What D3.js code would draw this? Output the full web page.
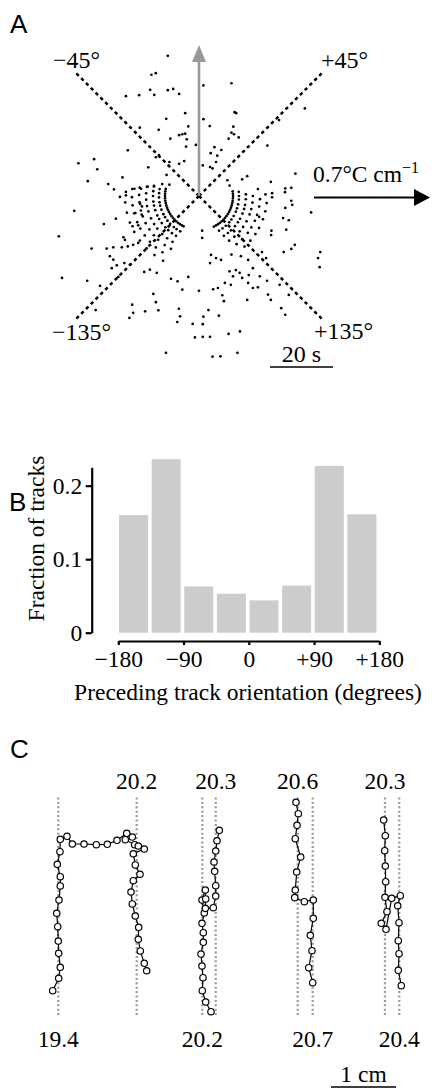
<!DOCTYPE html>
<html>
<head>
<meta charset="utf-8">
<script src="https://cdn.jsdelivr.net/npm/d3@7"></script>
<style>
body{margin:0;background:#fff;}
text{font-family:"Liberation Serif","Times New Roman",serif;fill:#000;}
.panel{font-family:"Liberation Sans",Arial,sans-serif;font-size:26px;}
</style>
</head>
<body>
<script>
// ---- Panel A: turn events, [x, y] in seconds (x along gradient, y up)
var turnPoints = [
  [-9.9,44.5],[-15.1,38.5],[-13.7,39.0],[-23.2,31.7],[-19.0,32.0],[-15.5,33.7],[-14.2,32.1],[-9.9,33.6],[-8.2,34.0],[-6.3,32.4],
  [-4.4,26.3],[-10.4,24.5],[-3.4,22.1],[-18.8,21.7],[-12.8,21.0],[-9.1,18.2],[-6.3,19.3],[-5.3,19.6],[-4.4,19.8],[-3.9,18.0],
  [-1.0,16.2],[-4.1,15.7],[-22.6,14.5],[-33.3,11.7],[-38.3,10.4],[-32.3,8.5],[-16.1,9.1],[-13.7,12.3],[-12.7,13.0],[-9.4,10.8],
  [-6.3,10.2],[-4.7,11.1],[-10.3,6.7],[-24.3,5.9],[-35.3,4.7],[-28.8,3.8],[-20.5,2.3],[-18.4,2.3],[-16.3,3.0],[-14.3,3.2],
  [-11.7,3.8],[-9.4,3.6],[-27.0,2.1],
  [1.4,35.1],[10.3,35.8],[11.3,26.6],[11.8,26.3],[1.4,24.4],[3.4,22.2],[10.9,22.0],[10.3,20.1],[11.1,19.6],[12.6,18.6],
  [9.4,18.2],[4.9,15.5],[7.1,14.6],[3.7,13.6],[5.8,12.8],[21.7,16.0],[33.6,27.8],[1.2,9.7],[3.5,9.2],[4.3,8.8],
  [5.4,10.8],[9.0,5.0],[9.7,3.3],[13.7,5.3],[15.3,6.3],[22.8,4.5],[30.6,7.1],[27.4,2.4],[29.3,2.6],[18.7,2.2],
  [25.4,24.1],[21.1,0.5],[23.2,0.9],[23.2,-0.4],[27.3,1.2],
  [-25.1,-0.3],[-23.2,0.2],[-23.2,1.3],[-39.6,-4.7],[-44.5,-12.8],[-30.2,-8.9],[-26.4,-7.2],[-34.1,-16.7],[-43.5,-26.0],[-35.5,-26.9],
  [-31.4,-28.5],[-32.8,-36.2],[-21.2,-34.5],[-20.9,-37.1],[-22.1,-38.7],[-17.1,-36.6],[-14.5,-31.1],[-13.7,-33.7],[-12.9,-36.3],[-17.4,-24.1],
  [-15.6,-23.4],[-13.4,-24.4],[-8.9,-26.3],[-6.8,-27.1],[-5.3,-29.7],[-3.4,-25.7],[-6.4,-35.8],[-6.0,-38.2],[-6.9,-40.0],[-2.0,-40.6],
  [-1.3,-44.9],[-10.5,-49.8],[0,-30.1],[-25.6,-25.7],[-29.3,-16.7],[-27.2,-16.3],[-24.5,-16.3],[-22.6,-16.0],[-20.9,-15.5],[-19.3,-14.9],
  [-24.0,-13.1],[-23.5,-13.9],[-21.1,-9.6],[-19.3,-9.3],[-28.3,-19.1],[-27.2,-20.2],[-26.1,-22.0],[-23.7,-21.3],[-21.9,-21.8],[-27.7,-22.9],
  [-18.7,-2.5],[-18.1,-3.3],[-20.2,-5.4],[-18.2,-5.9],
  [1.2,-40.7],[1.4,-38.3],[3.0,-36.2],[1.2,-44.7],[3.5,-44.7],[4.3,-51.0],[4.5,-29.6],[35.6,-5.2],[38.5,-17.8],[37.8,-19.7],
  [38.3,-22.6],[30.4,-15.5],[29.3,-16.8],[26.9,-17.8],[23.0,-11.0],[27.7,-10.7],[26.7,-7.0],[28.5,-7.7],[27.4,-3.8],[29.3,-1.5],
  [29.6,-2.8],[1.0,-11.0],[1.0,-13.3],[6.0,-29.2],[7.4,-31.5],[7.9,-33.4],[15.3,-33.0],[6.3,-38.0],[9.4,-43.8],[13.0,-43.0],
  [6.8,-50.9],[12.2,-49.8],[26.1,-35.6],[27.4,-37.7],[21.9,-31.3],[22.8,-33.0],[25.6,-28.2],[17.1,-29.2],[18.7,-29.0],[19.3,-25.5],
  [21.6,-26.9],[9.7,-23.9],[10.8,-25.5],[12.9,-24.4],[8.2,-27.6],[10.1,-28.2],[13.7,-26.0],[15.6,-27.6],[11.7,-23.5],[15.8,-25.1],
  [28.5,-31.4],[22.9,-12.4],[20.0,-17.8],[21.3,-19.7],[19.1,-6.6],[3.8,-18.7],[5.4,-19.7],[7.0,-20.3],[3.5,-21.3],[10.3,-18.6],
  [13.3,-19.1],[15.6,-20.3],[17.1,-22.9]
];

// the arc-shaped runs near the origin: time (s) and heading angles (deg)
var arcTimes = [10.8, 12.7, 14.9, 17.1, 19.4, 21.6,
                10.8, 12.7, 14.6, 16.8, 19.0, 21.3, 23.5];
var arcAngles = [
  [82,86,90,94,98,102,106,110,114,118,122,126,130,134,138,142,146,150,154],
  [84,90,95,102,108,113,120,126,131,138,144,150],
  [88,94,101,106,112,119,124,130,137,142,148],
  [90,97,104,110,118,125,131,139,146],
  [93,100,108,114,121,127,135,142],
  [96,103,110,118,124,131,138],
  [-78,-82,-86,-90,-94,-98,-102,-106,-110,-114,-118,-122,-126,-130,-134,-138,-142,-146,-150,-153],
  [-80,-86,-92,-99,-104,-110,-117,-122,-128,-134,-141,-146,-152],
  [-78,-84,-90,-97,-102,-108,-115,-120,-126,-133,-138,-144,-150],
  [-80,-87,-94,-101,-107,-115,-122,-128,-136,-143,-150],
  [-82,-89,-96,-104,-110,-117,-124,-131,-137,-145,-152],
  [-84,-91,-98,-105,-113,-119,-126,-133,-140,-147],
  [-95,-103,-111,-119,-127,-135,-143,-151]
];
var diagAngles = [-45, 45, -135, 135];
var diagLabels = ["\u221245\u00b0", "+45\u00b0", "\u2212135\u00b0", "+135\u00b0"];

// ---- Panel B: fraction of tracks per orientation bin (45 deg bins)
var binStarts = [-180, -135, -90, -45, 0, 45, 90, 135];
var fractions = [0.160, 0.236, 0.063, 0.053, 0.044, 0.064, 0.227, 0.161];
var xTicksB = [-180, -90, 0, 90, 180];
var xTickLabelsB = ["\u2212180", "\u221290", "0", "+90", "+180"];
var yTicksB = [0, 0.1, 0.2];

// ---- Panel C: example tracks, [x, y] in mm
var tracks = [
  [[5.03,4.51],[5.95,6.42],[6.20,8.11],[5.95,10.26],[5.89,12.15],[5.80,14.35],[5.65,16.42],[6.00,18.46],[6.20,20.62],[6.20,22.05],
   [5.74,23.95],[6.15,25.89],[6.20,27.80],[7.23,28.26],[8.05,27.08],[9.85,27.08],[11.74,26.97],[13.43,27.03],[14.92,27.65],[16.42,28.72],
   [17.28,28.15],[16.20,27.74],[17.65,26.97],[18.20,26.77],[19.12,26.31],[17.43,25.58],[17.74,23.85],[18.46,22.42],[17.43,21.43],[17.08,19.69],
   [17.28,17.85],[17.74,16.00],[18.26,14.26],[18.20,12.42],[18.51,10.62],[19.12,8.72],[19.49,7.58]],
  [[29.38,1.28],[28.57,2.77],[28.05,4.51],[28.15,6.51],[28.00,8.31],[27.85,10.15],[28.20,11.95],[28.20,13.43],[28.00,14.88],[28.35,16.46],
   [28.00,18.46],[28.51,20.00],[28.57,18.62],[28.51,17.18],[29.74,17.28],[30.11,19.08],[30.11,20.66],[29.95,22.88],[29.85,24.31],[30.11,26.00],
   [30.31,27.58],[30.66,29.18]],
  [[42.46,33.49],[42.82,31.74],[42.62,29.95],[42.35,27.89],[43.18,25.08],[42.57,22.77],[42.35,20.00],[42.26,18.82],[43.74,18.20],[45.12,18.46],
   [45.12,15.65],[44.66,13.03],[44.92,10.66],[44.42,8.05],[45.03,5.74]],
  [[55.95,30.77],[56.20,28.35],[56.11,26.05],[56.20,23.69],[56.26,21.28],[56.15,18.88],[56.46,16.66],[55.58,14.88],[56.31,13.95],[57.18,18.72],
   [58.51,19.12],[58.11,17.58],[58.31,14.97],[58.20,12.20],[58.31,10.20],[58.20,7.65],[58.66,5.28]]
];
var trackLines = [[5.89,17.95],[28.05,30.11],[42.72,45.03],[56.15,58.35]];
var topLabels = ["20.2","20.3","20.6","20.3"];
var topLabelLine = [1,1,0,0];
var bottomLabels = ["19.4","20.2","20.7","20.4"];
var bottomLabelLine = [0,0,1,1];

var svg = d3.select("body").append("svg")
    .attr("width", 432)
    .attr("height", 1089);

//panel letters
svg.append("text").attr("class","panel").attr("x",10).attr("y",33).text("A");
svg.append("text").attr("class","panel").attr("x",9).attr("y",511).text("B");
svg.append("text").attr("class","panel").attr("x",10).attr("y",758).text("C");

// ================= Panel A
var xA = d3.scaleLinear().domain([-45,45]).range([57.25, 340.75]);
var yA = d3.scaleLinear().domain([-45,45]).range([337.75, 54.25]);
var rad = Math.PI/180;
function polX(a,t){ return xA(t*Math.sin(a*rad)); }
function polY(a,t){ return yA(t*Math.cos(a*rad)); }

var gA = svg.append("g").attr("class","panelA");

//dashed diagonals
var diagLen = 55.7;
gA.selectAll("line.diag")
    .data(diagAngles)
    .enter()
    .append("line")
    .attr("class","diag")
    .attr("x1", xA(0)).attr("y1", yA(0))
    .attr("x2", function(d){ return polX(d, diagLen); })
    .attr("y2", function(d){ return polY(d, diagLen); })
    .attr("stroke","#000")
    .attr("stroke-width",2.5)
    .attr("stroke-dasharray","3.4,3.4");

//scattered dots
gA.selectAll("circle.pt")
    .data(turnPoints)
    .enter()
    .append("circle")
    .attr("class","pt")
    .attr("cx", function(d){ return xA(d[0]); })
    .attr("cy", function(d){ return yA(d[1]); })
    .attr("r", 1.35)
    .attr("fill","#000");

//arc dots
var arcPts = [];
arcAngles.forEach(function(list, i){
    list.forEach(function(a){ arcPts.push([a, arcTimes[i]]); });
});
gA.selectAll("circle.arc")
    .data(arcPts)
    .enter()
    .append("circle")
    .attr("class","arc")
    .attr("cx", function(d){ return polX(d[0], d[1]); })
    .attr("cy", function(d){ return polY(d[0], d[1]); })
    .attr("r", 1.35)
    .attr("fill","#000");

//gray arrow (up)
var upLen = 47.9;
gA.append("line")
    .attr("x1", xA(0)).attr("y1", yA(0))
    .attr("x2", xA(0)).attr("y2", yA(upLen) + 12)
    .attr("stroke","#999").attr("stroke-width",2.6);
gA.append("path")
    .attr("d", "M" + xA(0) + "," + yA(upLen) + "L" + (xA(0)-7) + "," + (yA(upLen)+17) +
               "L" + (xA(0)+7) + "," + (yA(upLen)+17) + "Z")
    .attr("fill","#999");

//diagonal labels
var labelPos = [[76.5,68,"middle"],[321,68,"start"],[52,340,"start"],[314,339,"start"]];
gA.selectAll("text.diag")
    .data(diagLabels)
    .enter()
    .append("text")
    .attr("class","diag")
    .attr("x", function(d,i){ return labelPos[i][0]; })
    .attr("y", function(d,i){ return labelPos[i][1]; })
    .attr("text-anchor", function(d,i){ return labelPos[i][2]; })
    .style("font-size","24px")
    .text(function(d){ return d; });

//gradient arrow
gA.append("line")
    .attr("x1",314).attr("y1",197.5).attr("x2",418).attr("y2",197.5)
    .attr("stroke","#000").attr("stroke-width",2);
gA.append("path")
    .attr("d","M430,197.5L414,189L414,206Z")
    .attr("fill","#000");
var grad = gA.append("text").attr("x",313).attr("y",182).style("font-size","23.5px");
grad.append("tspan").text("0.7\u00b0C cm");
grad.append("tspan").attr("dy",-9).style("font-size","16px").text("\u22121");

//scale bar 20 s
var sbX = 270;
gA.append("line")
    .attr("x1", sbX).attr("y1", 367)
    .attr("x2", sbX + xA(20) - xA(0)).attr("y2", 367)
    .attr("stroke","#000").attr("stroke-width",1.6);
gA.append("text")
    .attr("x", sbX + (xA(20) - xA(0))/2).attr("y", 362)
    .attr("text-anchor","middle")
    .style("font-size","24px")
    .text("20 s");

// ================= Panel B
var xB = d3.scaleLinear().domain([-180,180]).range([118.3, 379.3]);
var yB = d3.scaleLinear().domain([0,0.225]).range([632.7, 467.3]);
var gB = svg.append("g").attr("class","panelB");

gB.selectAll("rect")
    .data(fractions)
    .enter()
    .append("rect")
    .attr("x", function(d,i){ return xB(binStarts[i]) + 0.7; })
    .attr("width", function(d,i){ return xB(binStarts[i] + 45) - xB(binStarts[i]) - 3.6; })
    .attr("y", function(d){ return yB(d); })
    .attr("height", function(d){ return yB(0) - yB(d); })
    .attr("fill","#cccccc");

var yAxis = gB.append("g")
    .attr("transform","translate(91.7,0)")
    .call(d3.axisLeft(yB).tickValues(yTicksB).tickSize(6).tickSizeOuter(0).tickPadding(3.5)
          .tickFormat(function(d){ return d === 0 ? "0" : d3.format(".1f")(d); }));
var xAxis = gB.append("g")
    .attr("transform","translate(0,641)")
    .call(d3.axisBottom(xB).tickValues(xTicksB).tickSize(4).tickSizeOuter(0).tickPadding(5)
          .tickFormat(function(d,i){ return xTickLabelsB[i]; }));
[yAxis, xAxis].forEach(function(ax){
    ax.attr("font-family", null).attr("font-size", null);
    ax.select(".domain").attr("stroke-width",2.2);
    ax.selectAll(".tick line").attr("stroke-width",2.2);
    ax.selectAll(".tick text").style("font-size","23.5px").attr("fill","#000");
});

gB.append("text")
    .attr("transform","translate(43.5,538.5) rotate(-90)")
    .attr("text-anchor","middle")
    .style("font-size","23.5px")
    .text("Fraction of tracks");
gB.append("text")
    .attr("x", 248).attr("y", 700)
    .attr("text-anchor","middle")
    .style("font-size","23.5px")
    .text("Preceding track orientation (degrees)");

// ================= Panel C
var xC = d3.scaleLinear().domain([0,10]).range([20, 85]);
var yC = d3.scaleLinear().domain([0,10]).range([1020, 955]);
var gC = svg.append("g").attr("class","panelC");

trackLines.forEach(function(pair, i){
    gC.selectAll("line.ref" + i)
        .data(pair)
        .enter()
        .append("line")
        .attr("x1", function(d){ return xC(d); })
        .attr("x2", function(d){ return xC(d); })
        .attr("y1", 797.5).attr("y2", 1015)
        .attr("stroke","#999")
        .attr("stroke-width",2.2)
        .attr("stroke-dasharray","2,2.4");
});

var line = d3.line()
    .x(function(d){ return xC(d[0]); })
    .y(function(d){ return yC(d[1]); });

tracks.forEach(function(tr, i){
    gC.append("path")
        .attr("d", line(tr))
        .attr("fill","none")
        .attr("stroke","#000")
        .attr("stroke-width",1.2);
    gC.selectAll("circle.t" + i)
        .data(tr)
        .enter()
        .append("circle")
        .attr("cx", function(d){ return xC(d[0]); })
        .attr("cy", function(d){ return yC(d[1]); })
        .attr("r", 3.2)
        .attr("fill","#fff")
        .attr("stroke","#000")
        .attr("stroke-width",1.2);
});

gC.selectAll("text.top")
    .data(topLabels)
    .enter()
    .append("text")
    .attr("class","top")
    .attr("x", function(d,i){ return xC(trackLines[i][topLabelLine[i]]); })
    .attr("y", 789)
    .attr("text-anchor","middle")
    .style("font-size","23.5px")
    .text(function(d){ return d; });
gC.selectAll("text.bottom")
    .data(bottomLabels)
    .enter()
    .append("text")
    .attr("class","bottom")
    .attr("x", function(d,i){ return xC(trackLines[i][bottomLabelLine[i]]); })
    .attr("y", 1047)
    .attr("text-anchor","middle")
    .style("font-size","23.5px")
    .text(function(d){ return d; });

//scale bar 1 cm
var cmX = 331;
gC.append("line")
    .attr("x1", cmX).attr("x2", cmX + xC(10) - xC(0))
    .attr("y1", 1087).attr("y2", 1087)
    .attr("stroke","#000").attr("stroke-width",1.6);
gC.append("text")
    .attr("x", cmX + (xC(10) - xC(0))/2).attr("y", 1082)
    .attr("text-anchor","middle")
    .style("font-size","23.5px")
    .text("1 cm");
</script>
</body>
</html>
